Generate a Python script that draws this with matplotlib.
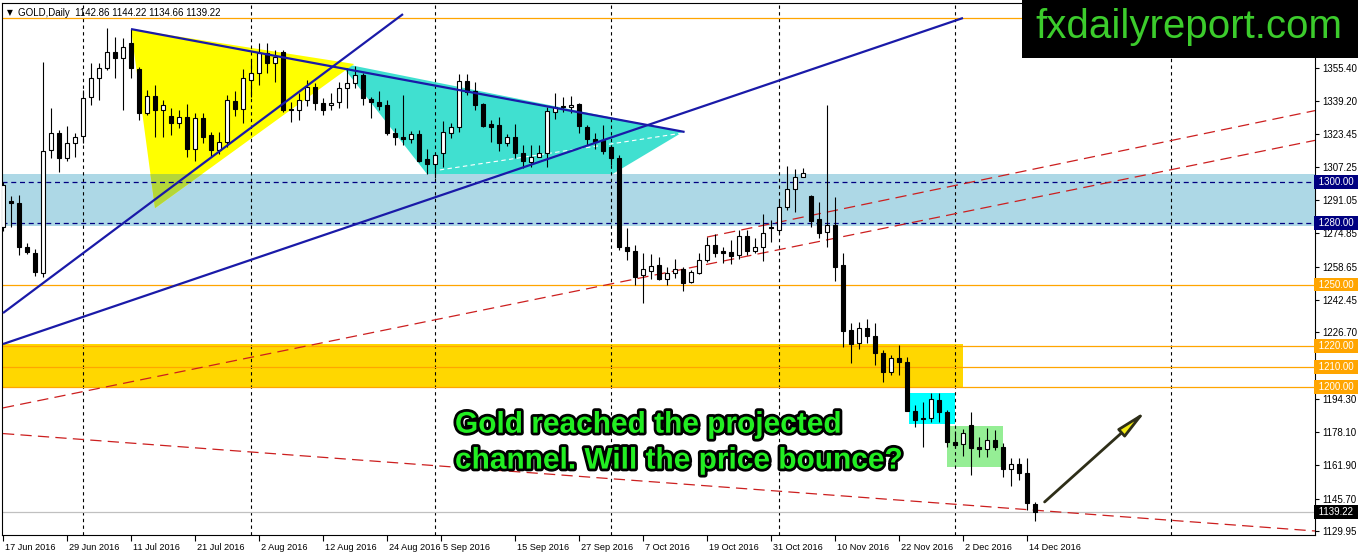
import numpy as np
import matplotlib.pyplot as plt
import matplotlib.patheffects as pe
import matplotlib.transforms as mtransforms
from matplotlib.patches import Polygon, Rectangle

plt.rcParams['font.family'] = ['Liberation Sans', 'DejaVu Sans']

# GOLD daily bars, 17 Jun 2016 .. 15 Dec 2016 (x = bar number)
opens = [1278.0, 1290.5, 1289.7, 1268.3, 1265.3, 1255.6, 1315.5, 1323.8, 1311.6, 1318.9,
         1322.3, 1341.3, 1350.6, 1355.4, 1363.2, 1360.3, 1367.6, 1354.9, 1333.5, 1341.8,
         1335.0, 1332.0, 1328.6, 1331.6, 1316.0, 1331.1, 1322.8, 1315.5, 1319.4, 1339.4,
         1335.5, 1349.6, 1353.0, 1362.7, 1357.9, 1363.2, 1335.4, 1335.0, 1339.8, 1346.2,
         1338.4, 1337.4, 1338.9, 1345.7, 1348.1, 1352.2, 1340.3, 1338.9, 1337.4, 1323.6,
         1321.7, 1320.7, 1323.3, 1311.0, 1308.7, 1313.9, 1324.0, 1326.6, 1349.3, 1344.4,
         1338.1, 1328.1, 1327.6, 1318.7, 1321.7, 1314.2, 1309.8, 1312.2, 1314.2, 1334.1,
         1337.1, 1336.3, 1337.9, 1326.8, 1321.1, 1320.4, 1316.8, 1311.4, 1268.1, 1266.5,
         1254.6, 1256.7, 1259.5, 1252.5, 1255.4, 1257.4, 1251.4, 1255.4, 1261.9, 1269.2,
         1266.5, 1266.0, 1264.4, 1273.6, 1266.5, 1268.1, 1277.8, 1276.5, 1287.6, 1296.4,
         1302.2, 1293.1, 1281.7, 1275.7, 1279.0, 1259.5, 1227.8, 1221.3, 1228.7, 1224.9,
         1216.8, 1207.5, 1214.1, 1212.4, 1188.5, 1184.8, 1184.8, 1193.7, 1188.0, 1173.4,
         1172.3, 1181.6, 1171.0, 1169.7, 1174.3, 1170.7, 1160.0, 1162.6, 1158.4, 1142.86]
highs = [1300.0, 1293.0, 1293.6, 1270.2, 1267.3, 1358.3, 1335.9, 1325.2, 1327.2, 1323.8,
         1344.7, 1357.9, 1358.0, 1374.9, 1370.5, 1370.0, 1374.4, 1356.0, 1344.7, 1347.2,
         1339.8, 1336.0, 1335.0, 1337.9, 1333.5, 1333.5, 1324.3, 1324.3, 1342.3, 1344.2,
         1355.0, 1359.3, 1367.6, 1367.6, 1364.2, 1364.2, 1338.9, 1343.3, 1349.6, 1348.1,
         1340.8, 1343.3, 1348.6, 1355.4, 1356.3, 1353.0, 1341.5, 1344.2, 1339.8, 1326.1,
         1342.3, 1324.8, 1325.2, 1315.8, 1313.9, 1329.4, 1328.6, 1352.5, 1352.5, 1348.6,
         1338.4, 1330.1, 1331.4, 1323.3, 1328.1, 1317.9, 1317.9, 1317.9, 1336.3, 1343.1,
         1341.5, 1341.8, 1338.4, 1327.7, 1323.6, 1327.7, 1317.9, 1313.1, 1277.4, 1269.2,
         1265.2, 1264.8, 1263.5, 1258.7, 1262.3, 1258.7, 1257.1, 1265.2, 1273.3, 1274.6,
         1268.1, 1271.7, 1276.5, 1276.5, 1272.5, 1284.3, 1281.4, 1291.5, 1307.7, 1306.2,
         1306.9, 1293.6, 1290.3, 1337.4, 1292.5, 1265.2, 1231.4, 1231.9, 1233.0, 1231.4,
         1218.1, 1215.7, 1220.5, 1214.8, 1191.3, 1193.0, 1197.3, 1197.0, 1188.9, 1178.8,
         1179.5, 1188.1, 1175.6, 1180.0, 1179.2, 1172.7, 1165.4, 1165.4, 1165.4, 1144.22]
lows = [1276.0, 1278.0, 1264.4, 1264.9, 1254.1, 1253.6, 1311.6, 1304.8, 1310.1, 1312.1,
        1318.9, 1337.4, 1340.0, 1354.5, 1350.6, 1335.0, 1350.6, 1330.1, 1332.5, 1321.8,
        1321.8, 1322.8, 1326.0, 1312.1, 1310.1, 1318.9, 1312.1, 1313.5, 1317.0, 1332.0,
        1328.6, 1341.3, 1347.0, 1353.0, 1348.6, 1334.0, 1329.1, 1330.1, 1336.9, 1335.0,
        1332.5, 1335.0, 1336.0, 1336.0, 1345.7, 1337.4, 1331.2, 1335.0, 1322.8, 1317.9,
        1317.9, 1319.0, 1309.8, 1304.0, 1301.7, 1307.1, 1321.3, 1324.5, 1342.3, 1335.0,
        1326.7, 1319.2, 1315.2, 1317.5, 1311.4, 1306.6, 1307.4, 1311.9, 1307.4, 1330.4,
        1334.1, 1333.6, 1324.0, 1317.9, 1315.8, 1313.6, 1308.2, 1266.8, 1261.9, 1249.8,
        1241.1, 1252.5, 1252.2, 1250.0, 1253.0, 1246.6, 1250.6, 1255.1, 1261.1, 1263.6,
        1260.6, 1260.0, 1262.3, 1264.4, 1265.2, 1261.6, 1270.9, 1274.9, 1286.3, 1285.5,
        1302.2, 1277.8, 1272.5, 1268.4, 1251.8, 1219.7, 1211.6, 1218.4, 1221.3, 1210.8,
        1202.7, 1205.9, 1205.9, 1188.5, 1180.5, 1171.0, 1183.2, 1183.2, 1171.0, 1170.2,
        1166.5, 1157.2, 1166.1, 1165.8, 1169.4, 1156.1, 1151.9, 1154.8, 1140.2, 1134.66]
closes = [1298.5, 1289.5, 1268.3, 1265.8, 1256.1, 1315.0, 1323.8, 1311.6, 1318.9, 1321.8,
          1340.8, 1350.6, 1355.4, 1363.2, 1360.3, 1365.7, 1355.4, 1333.5, 1341.8, 1335.0,
          1337.4, 1328.6, 1331.6, 1316.0, 1331.1, 1321.8, 1315.5, 1319.4, 1339.8, 1335.5,
          1350.6, 1353.0, 1362.7, 1357.9, 1360.8, 1335.0, 1335.0, 1339.8, 1346.2, 1338.4,
          1335.0, 1338.4, 1345.7, 1348.0, 1352.2, 1340.8, 1338.9, 1336.7, 1323.6, 1321.7,
          1320.7, 1323.3, 1310.3, 1308.7, 1313.1, 1324.5, 1326.6, 1349.3, 1343.9, 1337.4,
          1327.2, 1326.7, 1318.7, 1321.7, 1313.9, 1310.3, 1312.2, 1314.2, 1334.6, 1336.3,
          1336.3, 1337.6, 1327.2, 1321.1, 1319.5, 1315.2, 1311.4, 1268.1, 1266.5, 1253.8,
          1257.4, 1259.2, 1252.5, 1255.4, 1257.5, 1250.6, 1256.0, 1261.9, 1269.2, 1265.5,
          1265.5, 1263.9, 1273.6, 1266.5, 1268.1, 1275.2, 1277.3, 1287.9, 1296.4, 1302.2,
          1304.5, 1281.0, 1275.2, 1279.0, 1258.7, 1227.5, 1221.0, 1228.7, 1224.9, 1216.5,
          1207.5, 1214.1, 1212.4, 1188.5, 1184.0, 1184.3, 1194.1, 1188.0, 1173.4, 1171.8,
          1177.8, 1170.2, 1169.7, 1174.3, 1170.7, 1160.0, 1162.6, 1158.4, 1143.4, 1139.22]

date_pos = [0, 8, 16, 24, 32, 40, 48, 54.8, 64, 72, 80, 88, 96, 104, 112, 120, 128]
date_labels = ['17 Jun 2016', '29 Jun 2016', '11 Jul 2016', '21 Jul 2016', '2 Aug 2016',
               '12 Aug 2016', '24 Aug 2016', '5 Sep 2016', '15 Sep 2016', '27 Sep 2016',
               '7 Oct 2016', '19 Oct 2016', '31 Oct 2016', '10 Nov 2016', '22 Nov 2016',
               '2 Dec 2016', '14 Dec 2016']
month_breaks = [10, 31, 54, 76, 97, 119, 146]
price_ticks = [1129.95, 1145.70, 1161.90, 1178.10, 1194.30, 1226.70, 1242.45, 1258.65,
               1274.85, 1291.05, 1307.25, 1323.45, 1339.20, 1355.40]

orange_levels = [1380, 1250, 1220, 1210, 1200]
blue_levels = [1300, 1280]
last_price = 1139.22

# drawn objects (bar number, price)
blue_lines = [[(0, 1236.1), (50, 1381.7)],
              [(0, 1221.0), (120, 1379.8)],
              [(16, 1374.4), (85.2, 1324.3)]]
red_lines = [[(0, 1189.9), (164, 1320.2)],
             [(88, 1273.1), (164, 1334.7)],
             [(0, 1177.4), (164, 1129.95)]]
yellow_tri = [(16, 1374.4), (19, 1287.2), (43.9, 1357.4)]
teal_shape = [(42.1, 1357.9), (85, 1324.3), (76.2, 1303.8), (53, 1303.8)]
white_dash = [(54.6, 1305.8), (85, 1323.8)]
zone_band = (1278.5, 1303.8)
gold_band = (0, 120, 1199.8, 1221.0)
cyan_box = (113.2, 119, 1182.1, 1197.3)
green_box = (118, 125, 1161.3, 1181.1)
arrow_from = (130.2, 1144.1)
arrow_to = (142.9, 1188.5)

W, H = 1358, 554
fig = plt.figure(figsize=(W / 100, H / 100), dpi=100)
ax = fig.add_axes([2 / W, 19 / H, 1313 / W, 532 / H])
ax.set_xlim(-0.125, 164)
ax.set_ylim(1128.0, 1387.1)

# zones
ax.axhspan(*zone_band, color='#add8e6', lw=0, zorder=1)
ax.add_patch(Polygon(teal_shape, closed=True, fc='#40e0d0', ec='none', zorder=0.9))
ax.add_patch(Polygon(yellow_tri, closed=True, fc='#ffff00', ec='none', zorder=1.5))
band_clip = Rectangle((-1, zone_band[0]), 200, zone_band[1] - zone_band[0],
                      transform=ax.transData)
mix = Polygon(yellow_tri, closed=True, fc='#b4d639', ec='none', zorder=1.6)
ax.add_patch(mix)
mix.set_clip_path(band_clip)
ax.plot(*zip(*white_dash), color='white', lw=0.8, ls=(0, (4, 3)), zorder=1.7)

x0, x1, y0, y1 = gold_band
ax.add_patch(Rectangle((x0, y0), x1 - x0, y1 - y0, fc='#ffd700', ec='none', zorder=1))
ax.add_patch(Rectangle((cyan_box[0], cyan_box[2]), cyan_box[1] - cyan_box[0],
                       cyan_box[3] - cyan_box[2], fc='#00ffff', ec='none', zorder=1))
ax.add_patch(Rectangle((green_box[0], green_box[2]), green_box[1] - green_box[0],
                       green_box[3] - green_box[2], fc='#95ee95', ec='none', zorder=1.1))

# grid + levels
for m in month_breaks:
    ax.axvline(m, color='black', lw=0.8, ls=(0, (3, 3)), zorder=2)
for lv in orange_levels:
    ax.axhline(lv, color='#ffa500', lw=0.9, zorder=2)
for lv in blue_levels:
    ax.axhline(lv, color='#000080', lw=0.9, ls=(0, (4, 3)), zorder=2)
ax.axhline(last_price, color='#c0c0c0', lw=0.9, zorder=2)

for seg in red_lines:
    ax.plot(*zip(*seg), color='#cc1f1f', lw=0.9, ls=(0, (9, 5)), zorder=3)

# candles
o, h, l, c = map(np.array, (opens, highs, lows, closes))
idx = np.arange(len(o))
ax.vlines(idx, l, h, color='black', lw=0.8, zorder=4)
body_lo = np.minimum(o, c)
body_h = np.maximum(np.abs(c - o), 0.45)
ax.bar(idx, body_h, bottom=body_lo, width=0.62,
       color=np.where(c >= o, 'white', 'black'), edgecolor='black', linewidth=0.8, zorder=4.5)

for seg in blue_lines:
    ax.plot(*zip(*seg), color='#1a1aa8', lw=1.6, zorder=5, solid_capstyle='butt')

# arrow
ax.annotate('', xy=arrow_to, xytext=arrow_from,
            arrowprops=dict(arrowstyle='-|>,head_length=1.8,head_width=0.32',
                            fc='#f2ea12', ec='#2e2e18', lw=2.0, shrinkA=0, shrinkB=0),
            zorder=6)

ax.text(56.5, 1173.0, 'Gold reached the projected\nchannel. Will the price bounce?',
        fontsize=21.5, fontweight='bold', color='#22ee22', ha='left', va='center',
        linespacing=1.36, zorder=7,
        path_effects=[pe.Stroke(linewidth=4, foreground='black'), pe.Normal()])

# axes look
for s in ax.spines.values():
    s.set_color('black')
    s.set_linewidth(0.8)
ax.yaxis.tick_right()
ax.set_yticks(price_ticks)
ax.set_yticklabels([f'{p:.2f}' for p in price_ticks])
ax.tick_params(axis='y', length=3, width=0.8, pad=2, labelsize=7)
ax.set_xticks(date_pos)
ax.set_xticklabels(date_labels, ha='left')
ax.tick_params(axis='x', length=4, width=0.8, pad=1.5, labelsize=6.6)
shift = mtransforms.ScaledTranslation(1.5 / 72, 0, fig.dpi_scale_trans)
for lab in ax.get_xticklabels():
    lab.set_transform(lab.get_transform() + shift)

# price flags on the right scale
flag_tr = mtransforms.blended_transform_factory(ax.transAxes, ax.transData)
flags = [(lv, '#000080') for lv in blue_levels] + \
        [(lv, '#ffa500') for lv in orange_levels[1:]] + [(last_price, 'black')]
for lv, col in flags:
    ax.text(1.0008, lv, f' {lv:.2f} ', transform=flag_tr, fontsize=7, color='white',
            ha='left', va='center', zorder=8, clip_on=False,
            bbox=dict(boxstyle='square,pad=0.2', fc=col, ec='none'))

# header
ax.text(0.004, 0.982, '\u25bc', transform=ax.transAxes, fontsize=5.5, va='center',
        ha='left', family='DejaVu Sans')
ax.text(0.0125, 0.982, 'GOLD,Daily  1142.86 1144.22 1134.66 1139.22',
        transform=ax.transAxes, fontsize=7, va='center', ha='left')

# site logo
fig.patches.append(Rectangle((1022 / W, 1 - 58 / H), 336 / W, 58 / H, fc='black',
                             ec='none', transform=fig.transFigure, zorder=10))
fig.text(1189 / W, 1 - 27 / H, 'fxdailyreport.com', fontsize=29, color='#3ccc2c',
         ha='center', va='center', zorder=11)

fig.savefig('out.png', dpi=100)
